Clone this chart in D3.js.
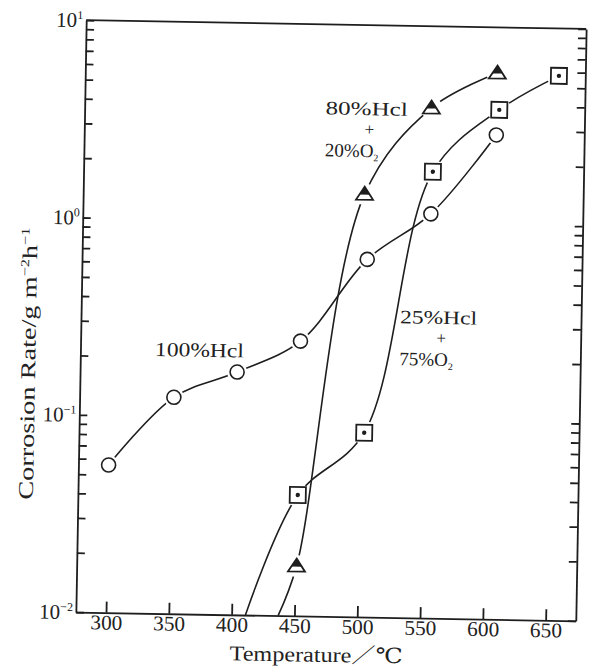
<!DOCTYPE html>
<html lang="en">
<head>
<meta charset="utf-8">
<title>Corrosion rate vs temperature</title>
<script src="https://cdn.jsdelivr.net/npm/d3@7"></script>
<style>
  body { margin: 0; background: #fff; }
  svg { display: block; }
  text { font-family: "Liberation Serif", "DejaVu Serif", "Noto Sans CJK JP", serif; fill: #222; }
</style>
</head>
<body>
<script>
// values (y is logarithmic)
// 100% HCl  (open circles)
var tempsHcl = [300, 351, 401, 451, 503, 553, 604];
var rateHcl  = [0.056, 0.125, 0.170, 0.247, 0.65, 1.12, 2.85];

// 25% HCl + 75% O2  (boxed dots)
var tempsMix25 = [451, 503, 554, 606, 653];
var rateMix25  = [0.041, 0.086, 1.83, 3.82, 5.75];

// 80% HCl + 20% O2  (half filled triangles)
var tempsMix80 = [451, 500, 552, 604];
var rateMix80  = [0.0179, 1.39, 3.85, 5.87];

// the two O2 curves are drawn down to the 10^-2 axis, leaving it at these temperatures
var exitMix25 = 411;
var exitMix80 = 437;

var xTicks = [300, 350, 400, 450, 500, 550, 600, 650];
var decades = [0.01, 0.1, 1, 10];
var decadeExp = ["\u22122", "\u22121", "0", "1"];

var width = 591, height = 669;
var boxL = 81, boxR = 581, boxT = 24.5, boxB = 616.5;
var ink = "#1e1e1e";

var svg = d3.select("body").append("svg")
    .attr("width", width)
    .attr("height", height);

// the scan is turned by about one degree
var g = svg.append("g")
    .attr("transform", "rotate(1, 331, 320.5)");

var x = d3.scaleLinear().domain([276, 674]).range([boxL, boxR]);
var y = d3.scaleLog().domain([0.01, 10]).range([boxB, boxT]);

// minor + major positions for the log ticks
var logTicks = [];
decades.slice(0, 3).forEach(function (d) {
    for (var k = 1; k < 10; k++) logTicks.push(d * k);
});
logTicks.push(10);

function inkAxis(s) {
    s.selectAll("line, path").attr("stroke", ink).attr("stroke-width", 1.8);
}

// left axis, ticks pointing in
g.append("g")
    .attr("transform", "translate(" + boxL + ",0)")
    .call(d3.axisRight(y).tickValues(logTicks).tickSizeInner(8).tickSizeOuter(0).tickFormat(""))
    .call(inkAxis);

// right axis
g.append("g")
    .attr("transform", "translate(" + boxR + ",0)")
    .call(d3.axisLeft(y).tickValues(logTicks).tickSizeInner(8).tickSizeOuter(0).tickFormat(""))
    .call(inkAxis);

// bottom axis, ticks pointing up
var xAxis = g.append("g")
    .attr("transform", "translate(0," + boxB + ")")
    .call(d3.axisBottom(x).tickValues(xTicks).tickSizeInner(-11).tickSizeOuter(0).tickPadding(2))
    .call(inkAxis);

xAxis.selectAll("text")
    .attr("font-family", "'Liberation Sans', Arial, sans-serif")
    .attr("font-size", 21)
    .attr("fill", "#222")
    .attr("textLength", 32)
    .attr("lengthAdjust", "spacingAndGlyphs");

// top line of the box
g.append("line")
    .attr("x1", boxL).attr("x2", boxR)
    .attr("y1", boxT).attr("y2", boxT)
    .attr("stroke", ink).attr("stroke-width", 1.8);

// decade labels 10^n
var dec = g.selectAll(".dec")
    .data(decades)
    .enter().append("text")
    .attr("class", "dec")
    .attr("x", boxL - 3)
    .attr("y", function (d) { return y(d) + 7; })
    .attr("text-anchor", "end")
    .attr("font-size", 21);
dec.append("tspan").text("10");
dec.append("tspan")
    .attr("dy", -8)
    .attr("font-size", 12)
    .text(function (d, i) { return decadeExp[i]; });

// axis titles
var yt = g.append("text")
    .attr("transform", "translate(36,369) rotate(-90)")
    .attr("text-anchor", "middle")
    .attr("font-size", 21)
    .attr("textLength", 272)
    .attr("lengthAdjust", "spacingAndGlyphs");
yt.append("tspan").text("Corrosion Rate/g m");
yt.append("tspan").attr("dy", -8).attr("font-size", 12).text("\u22122");
yt.append("tspan").attr("dy", 8).text("h");
yt.append("tspan").attr("dy", -8).attr("font-size", 12).text("\u22121");

g.append("text")
    .attr("x", 322).attr("y", 662)
    .attr("text-anchor", "middle")
    .attr("font-size", 21)
    .attr("textLength", 173)
    .attr("lengthAdjust", "spacingAndGlyphs")
    .text("Temperature\uFF0F\u2103");

// curves
var line = d3.line()
    .x(function (d) { return x(d[0]); })
    .y(function (d) { return y(d[1]); })
    .curve(d3.curveCatmullRom.alpha(0.5));

function pts(t, v) { return t.map(function (d, i) { return [d, v[i]]; }); }

var seriesHcl = pts(tempsHcl, rateHcl);
var series25 = pts(tempsMix25, rateMix25);
var series80 = pts(tempsMix80, rateMix80);

function drawCurve(data) {
    g.append("path")
        .attr("d", line(data))
        .attr("fill", "none")
        .attr("stroke", ink)
        .attr("stroke-width", 1.6);
}

function drawHalo(data, r) {
    g.selectAll(null)
        .data(data)
        .enter().append("circle")
        .attr("cx", function (d) { return x(d[0]); })
        .attr("cy", function (d) { return y(d[1]); })
        .attr("r", r)
        .attr("fill", "#fff");
}

// 100% HCl
drawCurve(seriesHcl);
drawHalo(seriesHcl, 10);
g.selectAll(".circ")
    .data(seriesHcl)
    .enter().append("circle")
    .attr("class", "circ")
    .attr("cx", function (d) { return x(d[0]); })
    .attr("cy", function (d) { return y(d[1]); })
    .attr("r", 7)
    .attr("fill", "#fff")
    .attr("stroke", ink)
    .attr("stroke-width", 1.6);

// 25% HCl + 75% O2
drawCurve([[exitMix25, 0.01]].concat(series25));
drawHalo(series25, 12);
var sq = g.selectAll(".sq")
    .data(series25)
    .enter().append("g")
    .attr("class", "sq")
    .attr("transform", function (d) { return "translate(" + x(d[0]) + "," + y(d[1]) + ")"; });
sq.append("rect")
    .attr("x", -8).attr("y", -8)
    .attr("width", 16).attr("height", 16)
    .attr("fill", "#fff")
    .attr("stroke", ink)
    .attr("stroke-width", 1.8);
sq.append("circle")
    .attr("r", 2.2)
    .attr("fill", ink);

// 80% HCl + 20% O2
drawCurve([[exitMix80, 0.01]].concat(series80));
drawHalo(series80, 11);
var tri = g.selectAll(".tri")
    .data(series80)
    .enter().append("g")
    .attr("class", "tri")
    .attr("transform", function (d) { return "translate(" + x(d[0]) + "," + y(d[1]) + ")"; });
tri.append("path")
    .attr("d", "M0,-7.5L8.5,5.5L-8.5,5.5Z")
    .attr("fill", "#fff")
    .attr("stroke", ink)
    .attr("stroke-width", 1.8);
tri.append("path")
    .attr("d", "M0,-7.5L5,0.5L-5,0.5Z")
    .attr("fill", ink);

// curve labels
g.append("text")
    .attr("x", 200).attr("y", 359)
    .attr("text-anchor", "middle")
    .attr("font-size", 20)
    .attr("textLength", 89)
    .attr("lengthAdjust", "spacingAndGlyphs")
    .text("100%Hcl");

function mixLabel(x0, y0, first, w1, last) {
    g.append("text")
        .attr("x", x0).attr("y", y0)
        .attr("font-size", 19)
        .attr("textLength", w1)
        .attr("lengthAdjust", "spacingAndGlyphs")
        .text(first);
    g.append("text")
        .attr("x", x0 + w1 / 2 + 3).attr("y", y0 + 20)
        .attr("text-anchor", "middle")
        .attr("font-size", 17)
        .text("+");
    var b = g.append("text")
        .attr("x", x0).attr("y", y0 + 42)
        .attr("font-size", 19);
    b.append("tspan").text(last);
    b.append("tspan").attr("dy", 4).attr("font-size", 10).text("2");
}

mixLabel(322, 114.5, "80%Hcl", 82, "20%O");
mixLabel(400, 322, "25%Hcl", 77, "75%O");
</script>
</body>
</html>
